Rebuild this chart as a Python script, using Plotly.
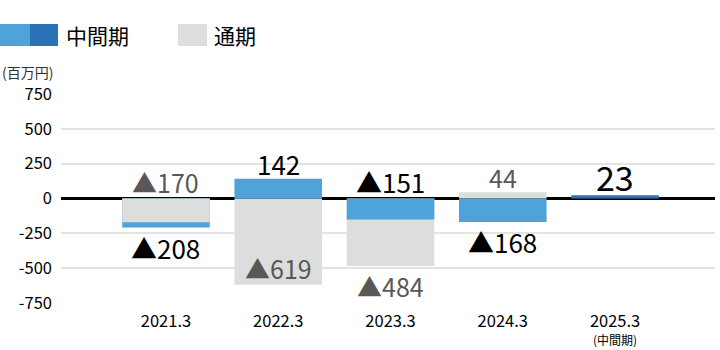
import plotly.graph_objects as go

categories = ["2021.3", "2022.3", "2023.3", "2024.3", "2025.3"]
tick_labels = ["2021.3", "2022.3", "2023.3", "2024.3", "2025.3"]
tick_sublabels = ["", "", "", "", "(中間期)"]
half_year = [-208, 142, -151, -168, 23]          # 中間期
full_year = [-170, -619, -484, 44, None]         # 通期
y_ticks = [750, 500, 250, 0, -250, -500, -750]

# label placement (style): reference point and pixel shift
half_ref = ["end", "end", "zero", "end", "end"]
half_shift = [-20, 15, 17, -20, 19]
full_ref = ["zero", "end", "end", "end", None]
full_shift = [17, 17, -20, 15, None]

LIGHT_BLUE = "#4FA3DB"
DARK_BLUE = "#2A72B8"
GRAY = "#DCDDDD"
FONT = "Noto Sans CJK JP"

W, H = 720, 350
ML, MR, MT, MB = 61, 5, 94, 47
pw = W - ML - MR
ph = H - MT - MB

def px_x(p):
    return (p - ML) / pw

def px_y(p):
    return (H - MB - p) / ph

x = list(range(len(categories)))
half_colors = [LIGHT_BLUE] * 4 + [DARK_BLUE]

def fmt(v):
    return ("▲" + str(abs(v))) if v < 0 else str(v)

fig = go.Figure()
fig.add_trace(go.Bar(x=x, y=full_year, marker_color=GRAY, width=0.78,
                     marker_line_width=0, hoverinfo="skip"))
fig.add_trace(go.Bar(x=x, y=half_year, marker_color=half_colors, width=0.78,
                     marker_line_width=0, hoverinfo="skip"))
front = [f if (f is not None and h * f > 0 and abs(f) < abs(h)) else None
         for f, h in zip(full_year, half_year)]
fig.add_trace(go.Bar(x=x, y=front, marker_color=GRAY, width=0.78,
                     marker_line_width=0, hoverinfo="skip"))

annotations = []
for i, v in enumerate(half_year):
    ref = 0 if half_ref[i] == "zero" else v
    size = 34 if i == 4 else 26
    annotations.append(dict(x=i, y=ref, xref="x", yref="y", text=fmt(v),
                            showarrow=False, yanchor="middle", yshift=half_shift[i],
                            font=dict(family=FONT, size=size, color="#000000")))
for i, v in enumerate(full_year):
    if v is None:
        continue
    ref = 0 if full_ref[i] == "zero" else v
    annotations.append(dict(x=i, y=ref, xref="x", yref="y", text=fmt(v),
                            showarrow=False, yanchor="middle", yshift=full_shift[i],
                            font=dict(family=FONT, size=25, color="#595757")))
for i, s in enumerate(tick_sublabels):
    if s:
        annotations.append(dict(x=i, y=px_y(339), xref="x", yref="paper", text=s,
                                showarrow=False, yanchor="middle", borderpad=0,
                                font=dict(family=FONT, size=12, color="#000000")))

annotations.append(dict(x=px_x(0), y=px_y(72), xref="paper", yref="paper",
                        text="(百万円)", showarrow=False, xanchor="left",
                        yanchor="middle",
                        font=dict(family=FONT, size=14, color="#333333")))
annotations.append(dict(x=px_x(64), y=px_y(35), xref="paper", yref="paper",
                        text="中間期", showarrow=False, xanchor="left", yanchor="middle",
                        font=dict(family=FONT, size=21, color="#000000")))
annotations.append(dict(x=px_x(212), y=px_y(35), xref="paper", yref="paper",
                        text="通期", showarrow=False, xanchor="left", yanchor="middle",
                        font=dict(family=FONT, size=21, color="#000000")))

shapes = [
    dict(type="rect", xref="paper", yref="paper", x0=px_x(0), x1=px_x(30),
         y0=px_y(46), y1=px_y(24), fillcolor=LIGHT_BLUE, line_width=0),
    dict(type="rect", xref="paper", yref="paper", x0=px_x(30), x1=px_x(58),
         y0=px_y(46), y1=px_y(24), fillcolor=DARK_BLUE, line_width=0),
    dict(type="rect", xref="paper", yref="paper", x0=px_x(178), x1=px_x(207),
         y0=px_y(46), y1=px_y(24), fillcolor=GRAY, line_width=0),
]

fig.update_layout(
    width=W, height=H,
    margin=dict(l=ML, r=MR, t=MT, b=MB, autoexpand=False),
    paper_bgcolor="white", plot_bgcolor="white",
    barmode="overlay", showlegend=False,
    font=dict(family=FONT, size=16, color="#000000"),
    annotations=annotations, shapes=shapes,
)

fig.update_xaxes(range=[-0.935, 4.89], tickmode="array", tickvals=x,
                 ticktext=tick_labels, showgrid=False, zeroline=False,
                 showline=False, ticks="", automargin=False,
                 tickfont=dict(size=16.5, color="#000000"),
                 ticklabelstandoff=6)
fig.update_yaxes(range=[-750, 750], tickmode="array", tickvals=y_ticks,
                 ticktext=[str(t) for t in y_ticks], showgrid=True,
                 gridcolor="#E3E3E3", gridwidth=1.5, zeroline=True,
                 zerolinecolor="#000000", zerolinewidth=2.5, showline=False,
                 ticks="", automargin=False,
                 tickfont=dict(size=16.5, color="#000000"),
                 ticklabelstandoff=8)

fig.write_html("out.html")
